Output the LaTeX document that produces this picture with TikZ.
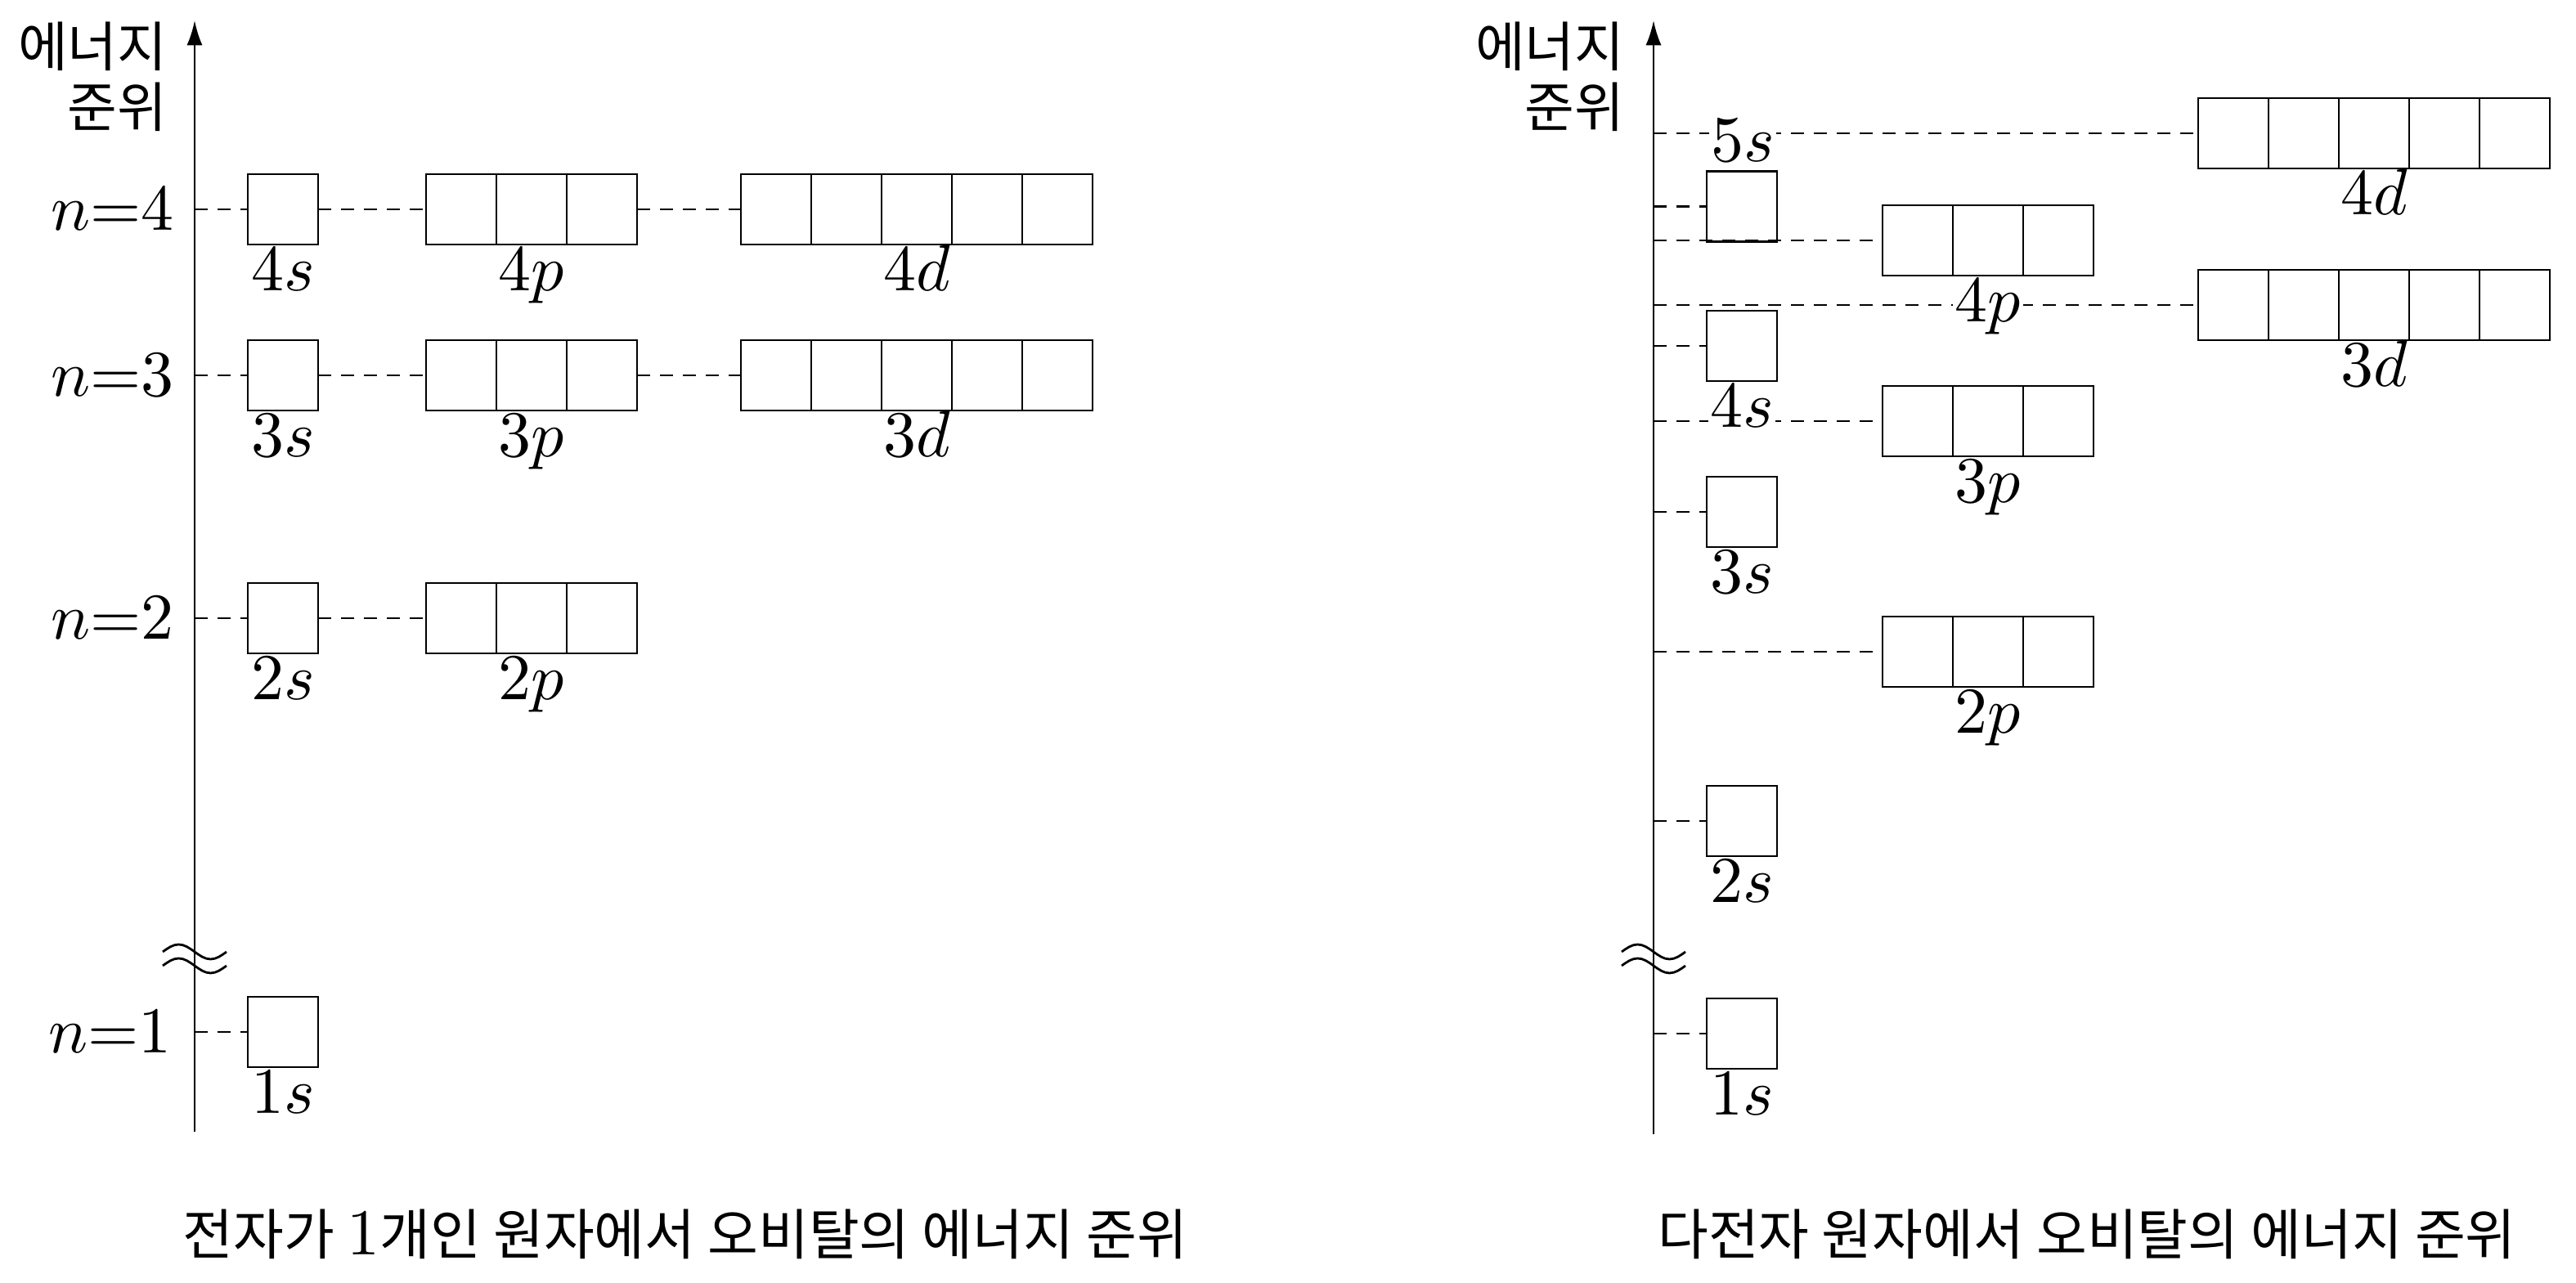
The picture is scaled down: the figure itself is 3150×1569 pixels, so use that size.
\documentclass[tikz,border=0pt]{standalone}
\usepackage{fontspec}
\newfontfamily\kr{Noto Sans CJK KR}
\usetikzlibrary{arrows.meta}
% #1 name, #2 left x, #3 centre y, #4 number of cells
\newcommand\orbrow[4]{%
  \node[grp,minimum width=#4*10.75pt] (#1) at ({#2+#4*43},#3) {};
  \foreach \k in {1,...,#4}{\ifnum\k<#4\relax
    \draw[cellline] ([xshift=\k*10.75pt]#1.north west) -- ([xshift=\k*10.75pt]#1.south west);\fi}%
}
\begin{document}
\begin{tikzpicture}[x=0.125pt,y=-0.125pt,
  grp/.style={draw,line width=0.35pt,fill=white,minimum height=10.75pt,inner sep=0pt,outer sep=0pt},
  cellline/.style={line width=0.35pt},
  lev/.style={line width=0.35pt,dash pattern=on 2pt off 1.5pt},
  axisline/.style={line width=0.35pt,-{Latex[length=3.8pt,width=2.4pt]}},
  orb/.style={inner sep=0.3pt,anchor=base},
  orbw/.style={orb,fill=white},
  nlab/.style={inner sep=0pt,anchor=east},
  klab/.style={inner sep=0pt,font=\kr\fontsize{8.25}{9}\selectfont},
  captext/.style={inner sep=0pt,font=\kr\fontsize{8.4}{10}\selectfont},
  brk/.style={line width=0.35pt}]
\useasboundingbox (0,0) rectangle (3150,1569);

% ---------------- left panel ----------------
\coordinate (LB) at (238,1384);
\coordinate (LT) at (238,25);
\draw[axisline] (LB) -- (LT);
\coordinate (L4) at (238,256);
\coordinate (L3) at (238,459);
\coordinate (L2) at (238,756);
\coordinate (L1) at (238,1262);

\orbrow{L4s}{303}{256}{1}
\orbrow{L4p}{521}{256}{3}
\orbrow{L4d}{906}{256}{5}
\orbrow{L3s}{303}{459}{1}
\orbrow{L3p}{521}{459}{3}
\orbrow{L3d}{906}{459}{5}
\orbrow{L2s}{303}{756}{1}
\orbrow{L2p}{521}{756}{3}
\orbrow{L1s}{303}{1262}{1}

\draw[lev] (L4) -- (L4s.west) (L4s.east) -- (L4p.west) (L4p.east) -- (L4d.west);
\draw[lev] (L3) -- (L3s.west) (L3s.east) -- (L3p.west) (L3p.east) -- (L3d.west);
\draw[lev] (L2) -- (L2s.west) (L2s.east) -- (L2p.west);
\draw[lev] (L1) -- (L1s.west);

\node[orb] (L4sl) at ([yshift=-7.125pt]L4s.south) {$4s$};
\node[orb] (L4pl) at ([yshift=-7.125pt]L4p.south) {$4p$};
\node[orb] (L4dl) at ([yshift=-7.125pt]L4d.south) {$4d$};
\node[orb] (L3sl) at ([yshift=-7.125pt]L3s.south) {$3s$};
\node[orb] (L3pl) at ([yshift=-7.125pt]L3p.south) {$3p$};
\node[orb] (L3dl) at ([yshift=-7.125pt]L3d.south) {$3d$};
\node[orb] (L2sl) at ([yshift=-7.125pt]L2s.south) {$2s$};
\node[orb] (L2pl) at ([yshift=-7.125pt]L2p.south) {$2p$};
\node[orb] (L1sl) at ([yshift=-7.125pt]L1s.south) {$1s$};

\node[nlab] (Ln4) at (214,256) {$n{=}4$};
\node[nlab] (Ln3) at (214,459) {$n{=}3$};
\node[nlab] (Ln2) at (214,756) {$n{=}2$};
\node[nlab] (Ln1) at (211,1262) {$n{=}1$};

\draw[brk] (199,1164) sin (218.5,1155) cos (238,1164) sin (257.5,1173) cos (277,1164);
\draw[brk] (199,1181) sin (218.5,1172) cos (238,1181) sin (257.5,1190) cos (277,1181);

\node[klab,anchor=east] (Lk1) at (206,57) {에너지};
\node[klab,anchor=east] (Lk2) at (206,131) {준위};
\node[captext] (Lcap) at (838,1509) {전자가 {\normalfont\fontsize{10}{12}\selectfont 1}개인 원자에서 오비탈의 에너지 준위};

% ---------------- right panel ----------------
\coordinate (RB) at (2022,1387);
\coordinate (RT) at (2022,25);
\draw[axisline] (RB) -- (RT);

\orbrow{R4d}{2688}{163}{5}
\orbrow{R5s}{2087}{252.5}{1}
\orbrow{R4p}{2302}{294}{3}
\orbrow{R3d}{2688}{373}{5}
\orbrow{R4s}{2087}{423}{1}
\orbrow{R3p}{2302}{515}{3}
\orbrow{R3s}{2087}{626}{1}
\orbrow{R2p}{2302}{797}{3}
\orbrow{R2s}{2087}{1004}{1}
\orbrow{R1s}{2087}{1264}{1}

\coordinate (A4d) at (2022,163);
\coordinate (A5s) at (2022,252.5);
\coordinate (A4p) at (2022,294);
\coordinate (A3d) at (2022,373);
\coordinate (A4s) at (2022,423);
\coordinate (A3p) at (2022,515);
\coordinate (A3s) at (2022,626);
\coordinate (A2p) at (2022,797);
\coordinate (A2s) at (2022,1004);
\coordinate (A1s) at (2022,1264);

\draw[lev] (A4d) -- (R4d.west);
\draw[lev] (A5s) -- (R5s.west);
\draw[lev] (A4p) -- (R4p.west);
\draw[lev] (A3d) -- (R3d.west);
\draw[lev] (A4s) -- (R4s.west);
\draw[lev] (A3p) -- (R3p.west);
\draw[lev] (A3s) -- (R3s.west);
\draw[lev] (A2p) -- (R2p.west);
\draw[lev] (A2s) -- (R2s.west);
\draw[lev] (A1s) -- (R1s.west);

\node[orbw] (R5sl) at (2131,198) {$5s$};
\node[orb] (R4dl) at ([yshift=-7.125pt]R4d.south) {$4d$};
\node[orbw] (R4pl) at ([yshift=-7.125pt]R4p.south) {$4p$};
\node[orb] (R3dl) at ([yshift=-7.125pt]R3d.south) {$3d$};
\node[orbw] (R4sl) at ([yshift=-7.125pt]R4s.south) {$4s$};
\node[orb] (R3pl) at ([yshift=-7.125pt]R3p.south) {$3p$};
\node[orb] (R3sl) at ([yshift=-7.125pt]R3s.south) {$3s$};
\node[orb] (R2pl) at ([yshift=-7.125pt]R2p.south) {$2p$};
\node[orb] (R2sl) at ([yshift=-7.125pt]R2s.south) {$2s$};
\node[orb] (R1sl) at ([yshift=-7.125pt]R1s.south) {$1s$};

\draw[brk] (1983,1164) sin (2002.5,1155) cos (2022,1164) sin (2041.5,1173) cos (2061,1164);
\draw[brk] (1983,1181) sin (2002.5,1172) cos (2022,1181) sin (2041.5,1190) cos (2061,1181);

\node[klab,anchor=east] (Rk1) at (1988,57) {에너지};
\node[klab,anchor=east] (Rk2) at (1988,131) {준위};
\node[captext] (Rcap) at (2552,1509) {다전자 원자에서 오비탈의 에너지 준위};
\end{tikzpicture}
\end{document}
